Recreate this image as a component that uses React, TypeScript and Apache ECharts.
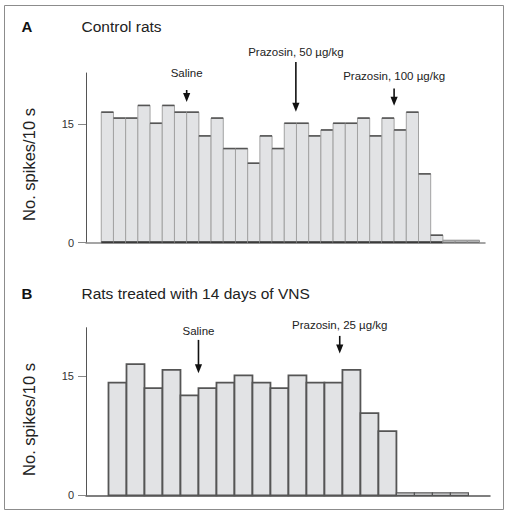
import React, { useEffect, useRef } from "react";
import * as echarts from "echarts";

// ---- Data ----
const panelATitle = "Control rats";
const panelBTitle = "Rats treated with 14 days of VNS";
const yAxisTitle = "No. spikes/10 s";
const yTickValues = [0, 15];

// Panel A: spikes per 10-s bin (control rats)
const binsA = [
  16.5, 15.75, 15.75, 17.35, 15.1, 17.35, 16.5, 16.5, 13.5, 15.75, 11.9, 11.9, 10.05, 13.5, 11.9,
  15.1, 15.1, 13.5, 14.25, 15.1, 15.1, 15.75, 13.5, 15.75, 14.25, 16.5, 8.7, 0.95, 0.3, 0.3, 0.3,
];
// Panel B: spikes per 10-s bin (14 days of VNS)
const binsB = [
  14.15, 16.45, 13.45, 15.75, 12.55, 13.45, 14.15, 15.05, 14.15, 13.45, 15.05, 14.15, 14.15, 15.75,
  10.3, 8.05, 0.3, 0.3, 0.3, 0.3,
];

// Injection annotations (bin position, label, and vertical extents in axis units)
const annotationsA = [
  { label: "Saline", bin: 6.5, text: 21.4, start: 19.3, tip: 17.8 },
  { label: "Prazosin, 50 µg/kg", bin: 15.45, text: 24.15, start: 22.85, tip: 16.55 },
  { label: "Prazosin, 100 µg/kg", bin: 23.5, text: 21.05, start: 19.5, tip: 17.3 },
];
const annotationsB = [
  { label: "Saline", bin: 4.5, text: 20.65, start: 19.5, tip: 15.3 },
  { label: "Prazosin, 25 µg/kg", bin: 12.35, text: 21.4, start: 20.0, tip: 17.8 },
];

const FONT = "'Liberation Sans', Arial, Helvetica, sans-serif";

function barRenderer(variant: "A" | "B") {
  return (params: any, api: any) => {
    const i = api.value(0);
    const v = api.value(1);
    const tl = api.coord([i - 0.5, v]);
    const br = api.coord([i + 0.5, 0]);
    const w = br[0] - tl[0];
    const h = br[1] - tl[1];
    if (variant === "A") {
      const tiny = h < 4;
      return {
        type: "group",
        children: [
          {
            type: "rect",
            shape: { x: tl[0], y: tl[1], width: w, height: h },
            style: { fill: "#e2e3e5", stroke: "#a2a2a2", lineWidth: 1 },
          },
          {
            type: "line",
            shape: { x1: tl[0], y1: tl[1], x2: br[0], y2: tl[1] },
            style: { stroke: tiny ? "#999" : "#555", lineWidth: tiny ? 1 : 1.6 },
          },
          {
            type: "line",
            shape: { x1: tl[0], y1: br[1] - 0.5, x2: br[0], y2: br[1] - 0.5 },
            style: { stroke: tiny ? "#666" : "#3a3a3a", lineWidth: tiny ? 1.2 : 2 },
          },
        ],
      };
    }
    return {
      type: "rect",
      shape: { x: tl[0], y: tl[1], width: w, height: h },
      style: { fill: "#e2e3e5", stroke: "#555", lineWidth: h < 4 ? 1.2 : 1.8 },
    };
  };
}

function annotationRenderer(list: typeof annotationsA) {
  return (params: any, api: any) => {
    const a = list[params.dataIndex];
    const pText = api.coord([a.bin, a.text]);
    const pStart = api.coord([a.bin, a.start]);
    const pTip = api.coord([a.bin, a.tip]);
    const x = pTip[0];
    return {
      type: "group",
      children: [
        {
          type: "line",
          shape: { x1: x, y1: pStart[1], x2: x, y2: pTip[1] - 7 },
          style: { stroke: "#111", lineWidth: 1.6 },
        },
        {
          type: "polygon",
          shape: {
            points: [
              [x - 3.6, pTip[1] - 9],
              [x + 3.6, pTip[1] - 9],
              [x, pTip[1]],
            ],
          },
          style: { fill: "#111" },
        },
        {
          type: "text",
          x: pText[0],
          y: pText[1],
          style: {
            text: a.label,
            align: "center",
            verticalAlign: "middle",
            fontSize: 11.5,
            fontFamily: FONT,
            fill: "#222",
          },
        },
      ],
    };
  };
}

export default function App() {
  const ref = useRef<HTMLDivElement>(null);

  useEffect(() => {
    document.body.style.margin = "0";
    if (!ref.current) return;
    const chart = echarts.init(ref.current, undefined, { renderer: "svg" });

    const yAxisCommon = (max: number) => ({
      type: "value" as const,
      min: 0,
      max,
      axisLine: { show: true, onZero: false, lineStyle: { color: "#555", width: 1 } },
      axisTick: {
        show: true,
        length: 8,
        customValues: yTickValues,
        lineStyle: { color: "#888", width: 1 },
      },
      axisLabel: {
        customValues: yTickValues,
        margin: 12,
        fontSize: 11,
        color: "#333",
        fontFamily: FONT,
      },
      splitLine: { show: false },
    });

    chart.setOption({
      animation: false,
      textStyle: { fontFamily: FONT },
      grid: [
        { left: 86, top: 73, width: 399, height: 169.7 },
        { left: 86, top: 327.7, width: 404, height: 167.6 },
      ],
      xAxis: [
        {
          type: "value",
          gridIndex: 0,
          min: -1.75,
          max: 30.95,
          axisLine: { show: true, onZero: false, lineStyle: { color: "#888", width: 1.5 } },
          axisTick: { show: false },
          axisLabel: { show: false },
          splitLine: { show: false },
        },
        {
          type: "value",
          gridIndex: 1,
          min: -1.75,
          max: 20.7,
          axisLine: { show: true, onZero: false, lineStyle: { color: "#555", width: 1.5 } },
          axisTick: { show: false },
          axisLabel: { show: false },
          splitLine: { show: false },
        },
      ],
      yAxis: [
        { ...yAxisCommon(21.45), gridIndex: 0 },
        { ...yAxisCommon(21.03), gridIndex: 1 },
      ],
      series: [
        {
          type: "custom",
          xAxisIndex: 0,
          yAxisIndex: 0,
          renderItem: barRenderer("A"),
          data: binsA.map((v, i) => [i, v]),
          z: 2,
        },
        {
          type: "custom",
          xAxisIndex: 1,
          yAxisIndex: 1,
          renderItem: barRenderer("B"),
          data: binsB.map((v, i) => [i, v]),
          z: 2,
        },
        {
          type: "custom",
          xAxisIndex: 0,
          yAxisIndex: 0,
          clip: false,
          renderItem: annotationRenderer(annotationsA),
          data: annotationsA.map((a) => [a.bin, a.tip]),
          z: 3,
        },
        {
          type: "custom",
          xAxisIndex: 1,
          yAxisIndex: 1,
          clip: false,
          renderItem: annotationRenderer(annotationsB),
          data: annotationsB.map((a) => [a.bin, a.tip]),
          z: 3,
        },
      ],
      graphic: [
        {
          type: "rect",
          shape: { x: 4.5, y: 5.5, width: 499, height: 504 },
          style: { fill: "none", stroke: "#8c8c8c", lineWidth: 1 },
          z: 0,
        },
        {
          type: "text",
          x: 21.5,
          y: 26,
          style: { text: "A", fontSize: 15, fontWeight: "bold", fontFamily: FONT, fill: "#111", verticalAlign: "middle" },
        },
        {
          type: "text",
          x: 81.5,
          y: 26,
          style: { text: panelATitle, fontSize: 15.5, fontFamily: FONT, fill: "#222", verticalAlign: "middle" },
        },
        {
          type: "text",
          x: 21.5,
          y: 293.5,
          style: { text: "B", fontSize: 15, fontWeight: "bold", fontFamily: FONT, fill: "#111", verticalAlign: "middle" },
        },
        {
          type: "text",
          x: 81.5,
          y: 293.5,
          style: { text: panelBTitle, fontSize: 15.5, fontFamily: FONT, fill: "#222", verticalAlign: "middle" },
        },
        {
          type: "text",
          x: 29,
          y: 164.5,
          rotation: Math.PI / 2,
          style: { text: yAxisTitle, fontSize: 16.5, fontFamily: FONT, fill: "#222", align: "center", verticalAlign: "middle" },
        },
        {
          type: "text",
          x: 29,
          y: 419.5,
          rotation: Math.PI / 2,
          style: { text: yAxisTitle, fontSize: 16.5, fontFamily: FONT, fill: "#222", align: "center", verticalAlign: "middle" },
        },
      ],
    });

    return () => chart.dispose();
  }, []);

  return <div ref={ref} style={{ width: 508, height: 515 }} />;
}
